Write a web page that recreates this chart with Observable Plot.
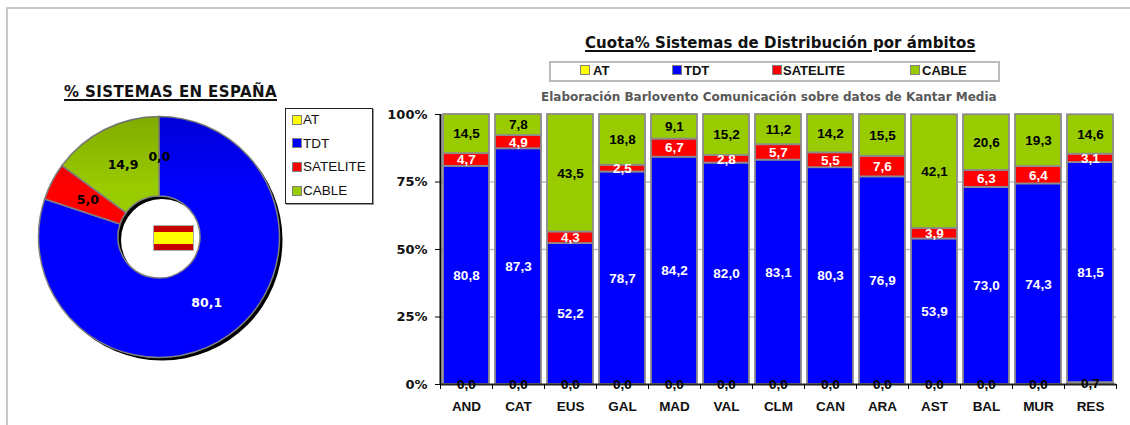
<!DOCTYPE html>
<html><head><meta charset="utf-8">
<script src="https://cdn.jsdelivr.net/npm/d3@7"></script>
<script src="https://cdn.jsdelivr.net/npm/@observablehq/plot@0.6"></script>
<style>
html,body{margin:0;padding:0;background:#fff}
#page{position:relative;width:1130px;height:425px;overflow:hidden;font-family:"Liberation Sans",Arial,sans-serif}
#page>*{position:absolute}
.frame{left:6px;top:7px;width:1130px;height:430px;border-left:2px solid #c8c8c8;border-top:2px solid #c8c8c8}
.t{white-space:nowrap;font-family:"DejaVu Sans",sans-serif;font-weight:bold;color:#111;text-decoration:underline;text-underline-offset:2px;text-decoration-thickness:1.5px}
.sw{width:8px;height:8px;border:1.5px solid #808080;box-sizing:content-box}
.lg{white-space:nowrap;line-height:14px}
svg{overflow:visible}
</style></head><body>
<div id="page"><div class="frame"></div></div>
<script>
const categories = ["AND","CAT","EUS","GAL","MAD","VAL","CLM","CAN","ARA","AST","BAL","MUR","RES"];
const seriesNames = ["AT","TDT","SATELITE","CABLE"];
const seriesColors = ["#ffff00","#0000ff","#ff0000","#99cc00"];
const labelColors = ["#000","#fff","#fff","#000"];
const at = [0,0,0,0,0,0,0,0,0,0,0,0,0.7];
const tdt = [80.8,87.3,52.2,78.7,84.2,82.0,83.1,80.3,76.9,53.9,73.0,74.3,81.5];
const satelite = [4.7,4.9,4.3,2.5,6.7,2.8,5.7,5.5,7.6,3.9,6.3,6.4,3.1];
const cable = [14.5,7.8,43.5,18.8,9.1,15.2,11.2,14.2,15.5,42.1,20.6,19.3,14.6];
const spainValues = [0.0,80.1,5.0,14.9];
const spainLabelColors = ["#000","#fff","#000","#000"];
const yTicks = [0,25,50,75,100];

const page = document.getElementById("page");
const fmt = v => v.toFixed(1).replace(".",",");
const add = (html,css,cls) => {const d=document.createElement("div"); if(cls) d.className=cls; d.style.cssText=css; d.innerHTML=html; page.appendChild(d); return d;};

// stacked bars
const seriesValues = [at,tdt,satelite,cable];
const rows = seriesNames.flatMap((s,i)=>categories.map((c,j)=>({cat:c,series:s,v:seriesValues[i][j],lc:labelColors[i]})));
const stackOpts = {x:"cat",y:"v",z:"series"};
const bars = Plot.plot({
  width:1130,height:425,marginLeft:440,marginRight:14,marginTop:114,marginBottom:41,
  style:{background:"transparent",fontFamily:"Liberation Sans"},
  x:{domain:categories,padding:0,align:0.5,label:null},
  y:{domain:[0,100],label:null},
  color:{domain:seriesNames,range:seriesColors},
  marks:[
    Plot.gridY([25,50,75],{stroke:"#c0c0c0",strokeOpacity:1,strokeWidth:1.5}),
    Plot.barY(rows,Plot.stackY({...stackOpts,fill:"series",stroke:"#8c8c8c",strokeWidth:1.8,insetLeft:3,insetRight:3})),
    Plot.ruleX([0],{x:()=>categories[0],dx:-26,y1:0,y2:100,stroke:"#000",strokeWidth:2}),
    Plot.ruleY([0],{stroke:"#222",strokeWidth:2}),
    Plot.text(rows,Plot.stackY({...stackOpts,text:d=>fmt(d.v),fill:"lc",fontSize:13.5,fontWeight:"bold",fontFamily:"Liberation Sans"})),
    Plot.axisX({tickSize:5,dx:-26,stroke:"#000",tickFormat:()=>""}),
    Plot.axisX({ticks:["RES"],tickSize:5,dx:26,stroke:"#000",tickFormat:()=>""}),
    Plot.axisX({tickSize:0,tickPadding:17,fontSize:13.5,fontWeight:"bold",fill:"#111",fontFamily:"Liberation Sans",label:null}),
    Plot.axisY({ticks:yTicks,tickSize:5,tickPadding:8,tickFormat:d=>d+"%",fontSize:13,fontWeight:"bold",fill:"#111",fontFamily:"DejaVu Sans",stroke:"#000",label:null})
  ]
});
bars.style.cssText="left:0;top:0";
page.appendChild(bars);

// donut
const R=120.5,r0=41,half=140;
const pieData=d3.pie().sort(null).value(d=>d.v)(seriesNames.map((s,i)=>({s,v:spainValues[i],lc:spainLabelColors[i]})));
const arc=d3.arc().innerRadius(r0).outerRadius(R);
const labels=pieData.map(p=>{const [x,y]=arc.centroid(p);return {x,y:-y,t:fmt(p.data.v),lc:p.data.lc};});
const donutMark=(index,{x,y,color})=>{
  const g=d3.create("svg:g").attr("transform",`translate(${x(0)},${y(0)})`);
  const grad=d3.create("svg:linearGradient").attr("id","shade").attr("x1",0).attr("x2",0).attr("y1",0).attr("y2",1);
  grad.append("stop").attr("offset","0").attr("stop-color","#000").attr("stop-opacity",0.16);
  grad.append("stop").attr("offset","0.3").attr("stop-color","#000").attr("stop-opacity",0);
  g.append(()=>grad.node());
  const k=(x(1)-x(0));
  const a=d3.arc().innerRadius(r0*k).outerRadius(R*k);
  g.append("path").attr("d",a({startAngle:0,endAngle:2*Math.PI})).attr("fill","#000").attr("transform","translate(3,3)");
  g.selectAll(".s").data(pieData).join("path").attr("d",a).attr("fill",d=>color(d.data.s)).attr("stroke","#808080").attr("stroke-width",1.5);
  g.append("path").attr("d",a({startAngle:0,endAngle:2*Math.PI})).attr("fill","url(#shade)");
  return g.node();
};
const donut=Plot.plot({
  width:2*half,height:2*half,margin:0,
  style:{background:"transparent",fontFamily:"Liberation Sans"},
  x:{domain:[-half,half],axis:null},y:{domain:[-half,half],axis:null},
  color:{domain:seriesNames,range:seriesColors},
  marks:[
    donutMark,
    Plot.text(labels,{x:"x",y:"y",text:"t",fill:"lc",fontSize:12.5,fontWeight:"bold",fontFamily:"DejaVu Sans"})
  ]
});
donut.style.cssText=`left:${159-half}px;top:${237-half}px`;
page.appendChild(donut);

// flag
add("",`left:153px;top:225px;width:41px;height:26px;box-sizing:border-box;border:1px solid #aaa;background:linear-gradient(#c60000 0 25%,#ffff00 25% 75%,#c60000 75%)`);

// titles
add("% SISTEMAS EN ESPAÑA","left:64px;top:83px;font-size:15px;letter-spacing:.4px","t");
add("Cuota% Sistemas de Distribución por ámbitos","left:585px;top:34px;font-size:15px;letter-spacing:.07px","t");
add("Elaboración Barlovento Comunicación sobre datos de Kantar Media","left:541px;top:90px;font:bold 12px 'DejaVu Sans';color:#595959;white-space:nowrap");

// left legend
add("","left:285px;top:108px;width:86px;height:94px;border:1px solid #222;box-shadow:1px 1px 0 #999;background:#fff");
seriesNames.forEach((s,i)=>{
  const y=[120,143.5,167,191][i];
  add("",`left:291.5px;top:${y-5.5}px;background:${seriesColors[i]}`,"sw");
  add(s,`left:303px;top:${y-8}px;font:13.5px 'Liberation Sans';color:#111`,"lg");
});
// top legend
add("","left:549px;top:61px;width:447px;height:17px;border:2px solid #bbb;background:#fff");
[[580,593],[672,684],[772,783],[910,922]].forEach(([a,b],i)=>{
  add("",`left:${a}px;top:65px;background:${seriesColors[i]}`,"sw");
  add(seriesNames[i],`left:${b}px;top:62.5px;font:bold 13px 'Liberation Sans';color:#111`,"lg");
});
</script></body></html>
